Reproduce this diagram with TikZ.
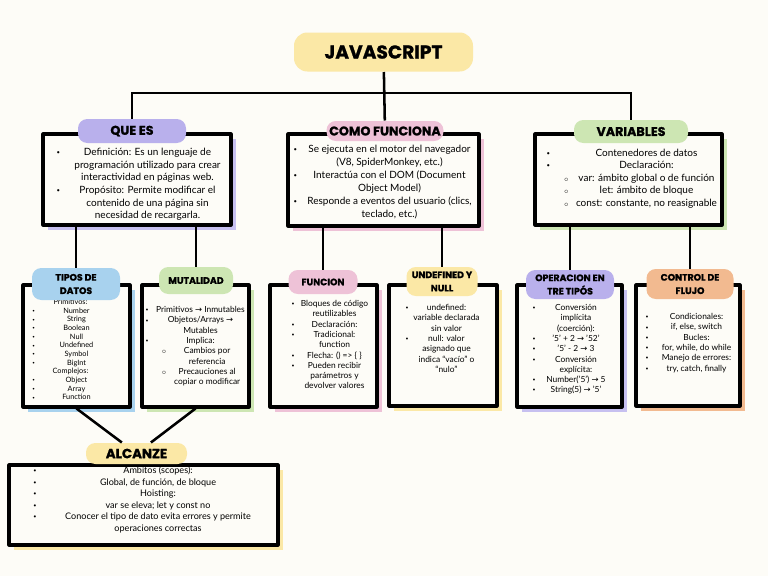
\documentclass[tikz,border=0pt]{standalone}
\usepackage{fontspec}
\usepackage{array}
\usetikzlibrary{shadows}
\setmainfont{Lato}
\newfontfamily\headfont{Poppins}[BoldFeatures={FakeBold=1.2}]
\newfontfamily\symfont{DejaVu Sans}

\definecolor{paper}{HTML}{FDFCF7}
\definecolor{yel}{HTML}{FBE8A6}
\definecolor{purp}{HTML}{B9B0EC}
\definecolor{pink}{HTML}{EEC2D7}
\definecolor{grn}{HTML}{CDE6B3}
\definecolor{blu}{HTML}{A8D2EE}
\definecolor{orng}{HTML}{F2BA90}

\newcolumntype{C}[1]{>{\centering\arraybackslash}p{#1}}
\newcommand{\itm}{\raisebox{0.2ex}{\scalebox{0.6}{\textbullet}}}
\newcommand{\sitm}[1]{\hspace*{#1}$\scriptstyle\circ$}
\newcommand{\subsh}{\hspace*{10pt}}
\newcommand{\arr}{{\symfont →}}

\tikzset{every picture/.style={line width=0.75pt}}
\tikzset{
  box/.style={draw=black, line width=2.3pt, fill=paper, inner sep=0pt, line join=round},
  sz/.style 2 args={minimum width=#1*0.75pt, minimum height=#2*0.75pt},
  backing/.style={drop shadow={fill=#1, opacity=1, shadow xshift=4pt, shadow yshift=-4pt}},
  pill/.style={fill=#1, rounded corners=7pt, inner sep=0pt, align=center, text=black},
  hd/.style={font=\headfont\bfseries\fontsize{#1}{10}\selectfont},
  link/.style={draw=black, line width=1.9pt},
  txt/.style={anchor=north west, inner sep=0pt},
}

\begin{document}
\begin{tikzpicture}[x=0.75pt,y=0.75pt,yscale=-1,xscale=1]
	%Background
	\fill [paper] (0,0) rectangle (768,576);
	\useasboundingbox (0,0) rectangle (768,576);

	%Shape: Rectangle [QUE ES]
	\node [box, backing=purp!80!white, sz={188}{91}] (quees) at (137,179.5) {};
	%Shape: Rectangle [COMO FUNCIONA]
	\node [box, backing=pink, sz={191}{92}] (comof) at (383.5,180) {};
	%Shape: Rectangle [VARIABLES]
	\node [box, backing=grn, sz={187}{91}] (varib) at (628.5,179.5) {};

	%Shape: Rectangle [TIPOS DE DATOS]
	\node [box, backing=blu, sz={107}{122}] (tipos) at (76.5,346) {};
	%Shape: Rectangle [MUTALIDAD]
	\node [box, backing=grn, sz={107}{122}] (mutal) at (195.5,346) {};
	%Shape: Rectangle [FUNCION]
	\node [box, backing=pink, sz={107}{122}] (funci) at (323.5,346) {};
	%Shape: Rectangle [UNDEFINED Y NULL]
	\node [box, backing=yel, sz={108}{121}] (undef) at (443,345.5) {};
	%Shape: Rectangle [OPERACION]
	\node [box, backing=purp!80!white, sz={105}{122}] (opera) at (569.5,346) {};
	%Shape: Rectangle [CONTROL DE FLUJO]
	\node [box, backing=orng, sz={104}{121}] (contr) at (688,345.5) {};
	%Shape: Rectangle [ALCANZE]
	\node [box, backing=yel, sz={269}{80}] (alcan) at (143.5,505) {};

	% Text Node
	\node [txt, font=\fontsize{7.5}{9.5}\selectfont] (quees-t) at (56,146) {\begin{tabular}{@{}p{0pt}@{\hspace{9.75pt}}C{117pt}@{}}
		\itm & Definición: Es un lenguaje de\\
		& programación utilizado para crear\\
		& interactividad en páginas web.\\
		\itm & Propósito: Permite modificar el\\
		& contenido de una página sin\\
		& necesidad de recargarla.
	\end{tabular}};
	% Text Node
	\node [txt, font=\fontsize{7.5}{9.7}\selectfont] (comof-t) at (293,143) {\begin{tabular}{@{}p{0pt}@{\hspace{4.5pt}}C{135pt}@{}}
		\itm & Se ejecuta en el motor del navegador\\
		& (V8, SpiderMonkey, etc.)\\
		\itm & Interactúa con el DOM (Document\\
		& Object Model)\\
		\itm & Responde a eventos del usuario (clics,\\
		& teclado, etc.)
	\end{tabular}};
	% Text Node
	\node [txt, font=\fontsize{7.5}{9.4}\selectfont] (varib-t) at (546,147) {\begin{tabular}{@{}p{0pt}@{\hspace{18.75pt}}C{112.5pt}@{}}
		\itm & Contenedores de datos\\
		\itm & Declaración:\\
		\sitm{13pt} & var: ámbito global o de función\\
		\sitm{13pt} & let: ámbito de bloque\\
		\sitm{13pt} & const: constante, no reasignable
	\end{tabular}};

	% Text Node
	\node [txt, font=\fontsize{5.5}{6.5}\selectfont] (tipos-t) at (32,298) {\begin{tabular}{@{}p{0pt}@{\hspace{6.75pt}}C{52.5pt}@{}}
		& \hspace*{-9pt}Primitivos:\\
		\itm & Number\\
		\itm & String\\
		\itm & Boolean\\
		\itm & Null\\
		\itm & Undefined\\
		\itm & Symbol\\
		\itm & BigInt\\
		& \hspace*{-9pt}Complejos:\\
		\itm & Object\\
		\itm & Array\\
		\itm & Function
	\end{tabular}};
	% Text Node
	\node [txt, font=\fontsize{6.3}{7.7}\selectfont] (mutal-t) at (145,305) {\begin{tabular}{@{}p{0pt}@{\hspace{5.25pt}}C{72pt}@{}}
		\itm & Primitivos \arr{} Inmutables\\
		\itm & Objetos/Arrays \arr\\
		& Mutables\\
		\itm & Implica:\\
		\sitm{12pt} & \subsh Cambios por\\
		& \subsh referencia\\
		\sitm{12pt} & \subsh Precauciones al\\
		& \subsh copiar o modificar
	\end{tabular}};
	% Text Node
	\node [txt, font=\fontsize{6.3}{7.7}\selectfont] (funci-t) at (291,299) {\begin{tabular}{@{}p{0pt}@{\hspace{2.25pt}}C{60pt}@{}}
		\itm & Bloques de código\\
		& reutilizables\\
		\itm & Declaración:\\
		\itm & Tradicional:\\
		& function\\
		\itm & Flecha: () => \{ \}\\
		\itm & Pueden recibir\\
		& parámetros y\\
		& devolver valores
	\end{tabular}};
	% Text Node
	\node [txt, font=\fontsize{6.3}{7.7}\selectfont] (undef-t) at (405,303) {\begin{tabular}{@{}p{0pt}@{\hspace{0.75pt}}C{60pt}@{}}
		\itm & undefined:\\
		& variable declarada\\
		& sin valor\\
		\itm & null: valor\\
		& asignado que\\
		& indica “vacío” o\\
		& “nulo”
	\end{tabular}};
	% Text Node
	\node [txt, font=\fontsize{6.3}{7.7}\selectfont] (opera-t) at (532,303) {\begin{tabular}{@{}p{0pt}@{\hspace{2.6pt}}C{60pt}@{}}
		\itm & Conversión\\
		& implícita\\
		& (coerción):\\
		\itm & '5' + 2 \arr{} '52'\\
		\itm & '5' - 2 \arr{} 3\\
		\itm & Conversión\\
		& explícita:\\
		\itm & Number('5') \arr{} 5\\
		\itm & String(5) \arr{} '5'
	\end{tabular}};
	% Text Node
	\node [txt, font=\fontsize{6.3}{7.7}\selectfont] (contr-t) at (645,312) {\begin{tabular}{@{}p{0pt}@{\hspace{6.75pt}}C{63pt}@{}}
		\itm & Condicionales:\\
		\itm & if, else, switch\\
		\itm & Bucles:\\
		\itm & for, while, do while\\
		\itm & Manejo de errores:\\
		\itm & try, catch, finally
	\end{tabular}};
	% Text Node
	\node [txt, font=\fontsize{6.8}{8.6}\selectfont] (alcan-t) at (33,465) {\begin{tabular}{@{}p{0pt}@{\hspace{18.4pt}}C{150pt}@{}}
		\itm & Ámbitos (scopes):\\
		\itm & Global, de función, de bloque\\
		\itm & Hoisting:\\
		\itm & var se eleva; let y const no\\
		\itm & Conocer el tipo de dato evita errores y permite\\
		& operaciones correctas
	\end{tabular}};

	%Shape: Pill [titles]
	\node [pill=yel, sz={179}{39}, rounded corners=10pt, hd=14] (title) at (383.5,52) {JAVASCRIPT};
	\node [pill=purp, sz={108}{24}, hd=9.5] (quees-h) at (132,131) {QUE ES};
	\node [pill=pink, sz={117}{20}, hd=9.5] (comof-h) at (385,131) {COMO FUNCIONA};
	\node [pill=grn, sz={114}{23}, hd=9.5] (varib-h) at (631,131.5) {VARIABLES};
	\node [pill=blu, sz={88}{32}, hd=7] (tipos-h) at (76,284) {TIPOS DE\\DATOS};
	\node [pill=grn, sz={74}{27}, hd=7] (mutal-h) at (196,280.5) {MUTALIDAD};
	\node [pill=pink, sz={69}{24}, hd=7] (funci-h) at (323,282) {FUNCION};
	\node [pill=yel, sz={71}{29}, hd=7] (undef-h) at (442,281.5) {UNDEFINED Y\\NULL};
	\node [pill=purp, sz={88}{29}, hd=7] (opera-h) at (570,284.5) {OPERACION EN\\TRE TIPÓS};
	\node [pill=orng, sz={87}{30}, hd=7] (contr-h) at (690,284) {CONTROL DE\\FLUJO};
	\node [pill=yel, sz={101}{21}, hd=10] (alcan-h) at (136.5,453.5) {ALCANZE};

	%Straight Lines
	\draw [link] (title) -- (comof-h);
	\draw [link] (quees-h) -- ++(0,-38) -| (varib-h);
	\draw [link] (tipos-h) -- (tipos-h |- quees.south);
	\draw [link] (mutal-h) -- (mutal-h |- quees.south);
	\draw [link] (funci-h) -- (funci-h |- comof.south);
	\draw [link] (undef-h) -- (undef-h |- comof.south);
	\draw [link] (opera-h) -- (opera-h |- varib.south);
	\draw [link] (contr-h) -- (contr-h |- varib.south);
	\draw [link] (tipos.south) -- (alcan-h) -- (mutal.south);

\end{tikzpicture}
\end{document}
